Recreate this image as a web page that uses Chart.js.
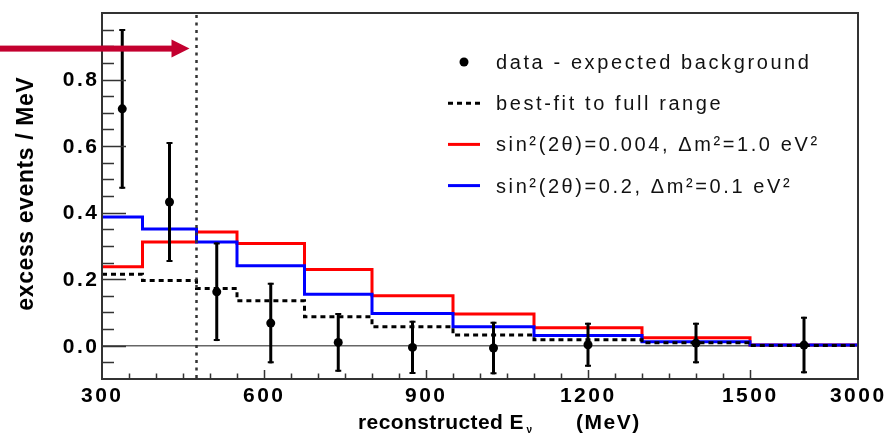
<!DOCTYPE html>
<html>
<head>
<meta charset="utf-8">
<script src="https://cdn.jsdelivr.net/npm/chart.js@4.4.1/dist/chart.umd.min.js"></script>
<style>
	html, body { margin: 0; padding: 0; background: #fff; }
</style>
</head>
<body>
<canvas id="excessChart" width="887" height="434"></canvas>
<script>
// bin edges in MeV, the last bin (1500-3000) is squeezed on the axis
const binEdges = [300, 375, 475, 550, 675, 800, 950, 1100, 1300, 1500, 3000];
const dataEnergy = [337.5, 425, 512.5, 612.5, 737.5, 875, 1025, 1200, 1400, 2250];
const dataExcess = [0.712, 0.432, 0.162, 0.068, 0.010, -0.005, -0.007, 0.003, 0.008, 0.002];
const dataError = [0.240, 0.180, 0.148, 0.121, 0.088, 0.080, 0.079, 0.066, 0.061, 0.085];
const bestFit = [0.215, 0.196, 0.172, 0.135, 0.087, 0.057, 0.032, 0.018, 0.009, 0.001];
const redModel = [0.237, 0.312, 0.342, 0.307, 0.229, 0.150, 0.095, 0.054, 0.024, 0.002];
const blueModel = [0.387, 0.351, 0.312, 0.240, 0.155, 0.097, 0.057, 0.031, 0.012, 0.002];
const xTickValues = [300, 600, 900, 1200, 1500, 3000];
const yTickValues = [0.0, 0.2, 0.4, 0.6, 0.8];
const cutEnergy = 475;
const seriesLabels = [
	'data - expected background',
	'best-fit to full range',
	'sin\u00b2(2\u03b8)=0.004, \u0394m\u00b2=1.0 eV\u00b2',
	'sin\u00b2(2\u03b8)=0.2, \u0394m\u00b2=0.1 eV\u00b2'
];

// axis is linear up to 1500, then 1500-3000 takes the room of 200 MeV
function warp(e) {
	return e <= 1500 ? e : 1500 + (e - 1500) * 200 / 1500;
}

function histo(values) {
	return binEdges.map((e, i) => ({ x: warp(e), y: values[Math.min(i, values.length - 1)] }));
}

function drawText(ctx, str, x, y, font, spacing, align) {
	ctx.font = font;
	ctx.letterSpacing = spacing + 'px';
	ctx.textAlign = 'left';
	const w = ctx.measureText(str).width - spacing;
	let x0 = x;
	if (align === 'center') x0 = x - w / 2;
	else if (align === 'right') x0 = x - w;
	ctx.fillText(str, x0, y);
	return x0 + w;
}

const rootStyle = {
	id: 'rootStyle',
	beforeDatasetsDraw: (chart) => {
		const { ctx, chartArea: { left, right } } = chart;
		const ys = chart.scales.y;
		ctx.save();
		// zero line
		ctx.strokeStyle = '#666';
		ctx.lineWidth = 1.5;
		ctx.beginPath();
		ctx.moveTo(left, ys.getPixelForValue(0));
		ctx.lineTo(right, ys.getPixelForValue(0));
		ctx.stroke();
		ctx.restore();
	},
	beforeDatasetDraw: (chart, args) => {
		if (args.index !== 0) return;
		const { ctx } = chart;
		const xs = chart.scales.x, ys = chart.scales.y;
		ctx.save();
		ctx.strokeStyle = '#000';
		dataEnergy.forEach((e, i) => {
			const x = xs.getPixelForValue(warp(e));
			const y1 = ys.getPixelForValue(dataExcess[i] + dataError[i]);
			const y2 = ys.getPixelForValue(dataExcess[i] - dataError[i]);
			ctx.lineWidth = 3;
			ctx.beginPath();
			ctx.moveTo(x, y1);
			ctx.lineTo(x, y2);
			ctx.stroke();
			ctx.lineWidth = 2;
			ctx.beginPath();
			ctx.moveTo(x - 3, y1 + 1); ctx.lineTo(x + 3, y1 + 1);
			ctx.moveTo(x - 3, y2 - 1); ctx.lineTo(x + 3, y2 - 1);
			ctx.stroke();
		});
		ctx.restore();
	},
	afterDraw: (chart) => {
		const { ctx, chartArea: { left, right, top, bottom } } = chart;
		const xs = chart.scales.x, ys = chart.scales.y;
		ctx.save();

		// dotted line at the energy cut
		const xc = xs.getPixelForValue(warp(cutEnergy));
		ctx.strokeStyle = '#333';
		ctx.lineWidth = 2.5;
		ctx.setLineDash([3, 4.5]);
		ctx.beginPath();
		ctx.moveTo(xc, top + 2);
		ctx.lineTo(xc, bottom);
		ctx.stroke();
		ctx.setLineDash([]);

		// frame
		ctx.strokeStyle = '#333';
		ctx.lineWidth = 2;
		ctx.strokeRect(left, top, right - left, bottom - top);

		// inward ticks
		ctx.lineWidth = 1.5;
		ctx.beginPath();
		for (let k = -1; k <= 19; k++) {
			const y = Math.round(ys.getPixelForValue(k * 0.05)) + 0.5;
			const len = k % 4 === 0 ? 24 : 12;
			ctx.moveTo(left, y);
			ctx.lineTo(left + len, y);
		}
		for (let e = 350; e <= 1500; e += 50) {
			const x = Math.round(xs.getPixelForValue(warp(e))) + 0.5;
			const len = e % 300 === 0 ? 9 : 5.5;
			ctx.moveTo(x, bottom);
			ctx.lineTo(x, bottom - len);
		}
		ctx.stroke();

		// tick labels
		ctx.fillStyle = '#000';
		ctx.textBaseline = 'middle';
		yTickValues.forEach(v => {
			drawText(ctx, v.toFixed(1), left - 5, ys.getPixelForValue(v) + 1, 'bold 21px "Liberation Sans", Arial, sans-serif', 2.5, 'right');
		});
		ctx.textBaseline = 'alphabetic';
		xTickValues.forEach(v => {
			drawText(ctx, String(v), xs.getPixelForValue(warp(v)) - 1, 402, 'bold 21px "Liberation Sans", Arial, sans-serif', 2.5, 'center');
		});

		// axis titles
		let xe = drawText(ctx, 'reconstructed E', 358, 429, 'bold 21px "Liberation Sans", Arial, sans-serif', 0.4, 'left');
		xe = drawText(ctx, '\u03bd', xe + 3, 433, 'bold 10px "Liberation Sans", Arial, sans-serif', 0, 'left');
		drawText(ctx, '(MeV)', xe + 44, 429, 'bold 21px "Liberation Sans", Arial, sans-serif', 1.5, 'left');

		ctx.save();
		ctx.translate(33, 194);
		ctx.rotate(-Math.PI / 2);
		drawText(ctx, 'excess events / MeV', 0, 0, 'bold 23px "Liberation Sans", Arial, sans-serif', 0.6, 'center');
		ctx.restore();

		// legend
		const sets = chart.data.datasets;
		const lx0 = 448, lx1 = 480, tx = 496;
		sets.forEach((ds, i) => {
			const base = 69 + i * 41.2;
			const ym = base - 7;
			if (i === 0) {
				ctx.fillStyle = ds.backgroundColor;
				ctx.beginPath();
				ctx.arc((lx0 + lx1) / 2, ym, 4.5, 0, Math.PI * 2);
				ctx.fill();
			} else {
				ctx.strokeStyle = ds.borderColor;
				ctx.lineWidth = ds.borderWidth;
				ctx.setLineDash(ds.borderDash || []);
				ctx.beginPath();
				ctx.moveTo(lx0, ym);
				ctx.lineTo(lx1, ym);
				ctx.stroke();
				ctx.setLineDash([]);
			}
			ctx.fillStyle = '#111';
			drawText(ctx, ds.label, tx, base, '20px "Liberation Sans", Arial, sans-serif', 2.6, 'left');
		});

		// red arrow pointing at the cut
		const ay = ys.getPixelForValue(0.893);
		const tip = xc - 7;
		ctx.fillStyle = '#c3002f';
		ctx.fillRect(0, ay - 3, tip - 17, 6);
		ctx.beginPath();
		ctx.moveTo(tip - 18, ay - 9);
		ctx.lineTo(tip, ay);
		ctx.lineTo(tip - 18, ay + 9);
		ctx.closePath();
		ctx.fill();

		ctx.restore();
	}
};

const chart = new Chart(document.getElementById('excessChart'), {
	type: 'line',
	data: {
		datasets: [
			{
				type: 'scatter',
				label: seriesLabels[0],
				data: dataEnergy.map((e, i) => ({ x: warp(e), y: dataExcess[i] })),
				backgroundColor: '#000',
				borderWidth: 0,
				pointRadius: 4.5,
				order: 0
			},
			{
				label: seriesLabels[1],
				data: histo(bestFit),
				stepped: 'before',
				borderColor: '#000',
				borderWidth: 3,
				borderDash: [5, 4],
				pointRadius: 0,
				order: 1
			},
			{
				label: seriesLabels[2],
				data: histo(redModel),
				stepped: 'before',
				borderColor: '#ff0000',
				borderWidth: 3,
				pointRadius: 0,
				order: 3
			},
			{
				label: seriesLabels[3],
				data: histo(blueModel),
				stepped: 'before',
				borderColor: '#0000ff',
				borderWidth: 3,
				pointRadius: 0,
				order: 2
			}
		]
	},
	options: {
		responsive: false,
		animation: false,
		devicePixelRatio: 1,
		layout: {
			padding: { left: 102, right: 29, top: 13, bottom: 55 }
		},
		scales: {
			x: { type: 'linear', display: false, min: 300, max: warp(3000) },
			y: { type: 'linear', display: false, min: -0.1, max: 1.0 }
		},
		plugins: {
			legend: { display: false },
			tooltip: { enabled: false }
		}
	},
	plugins: [rootStyle]
});
</script>
</body>
</html>
